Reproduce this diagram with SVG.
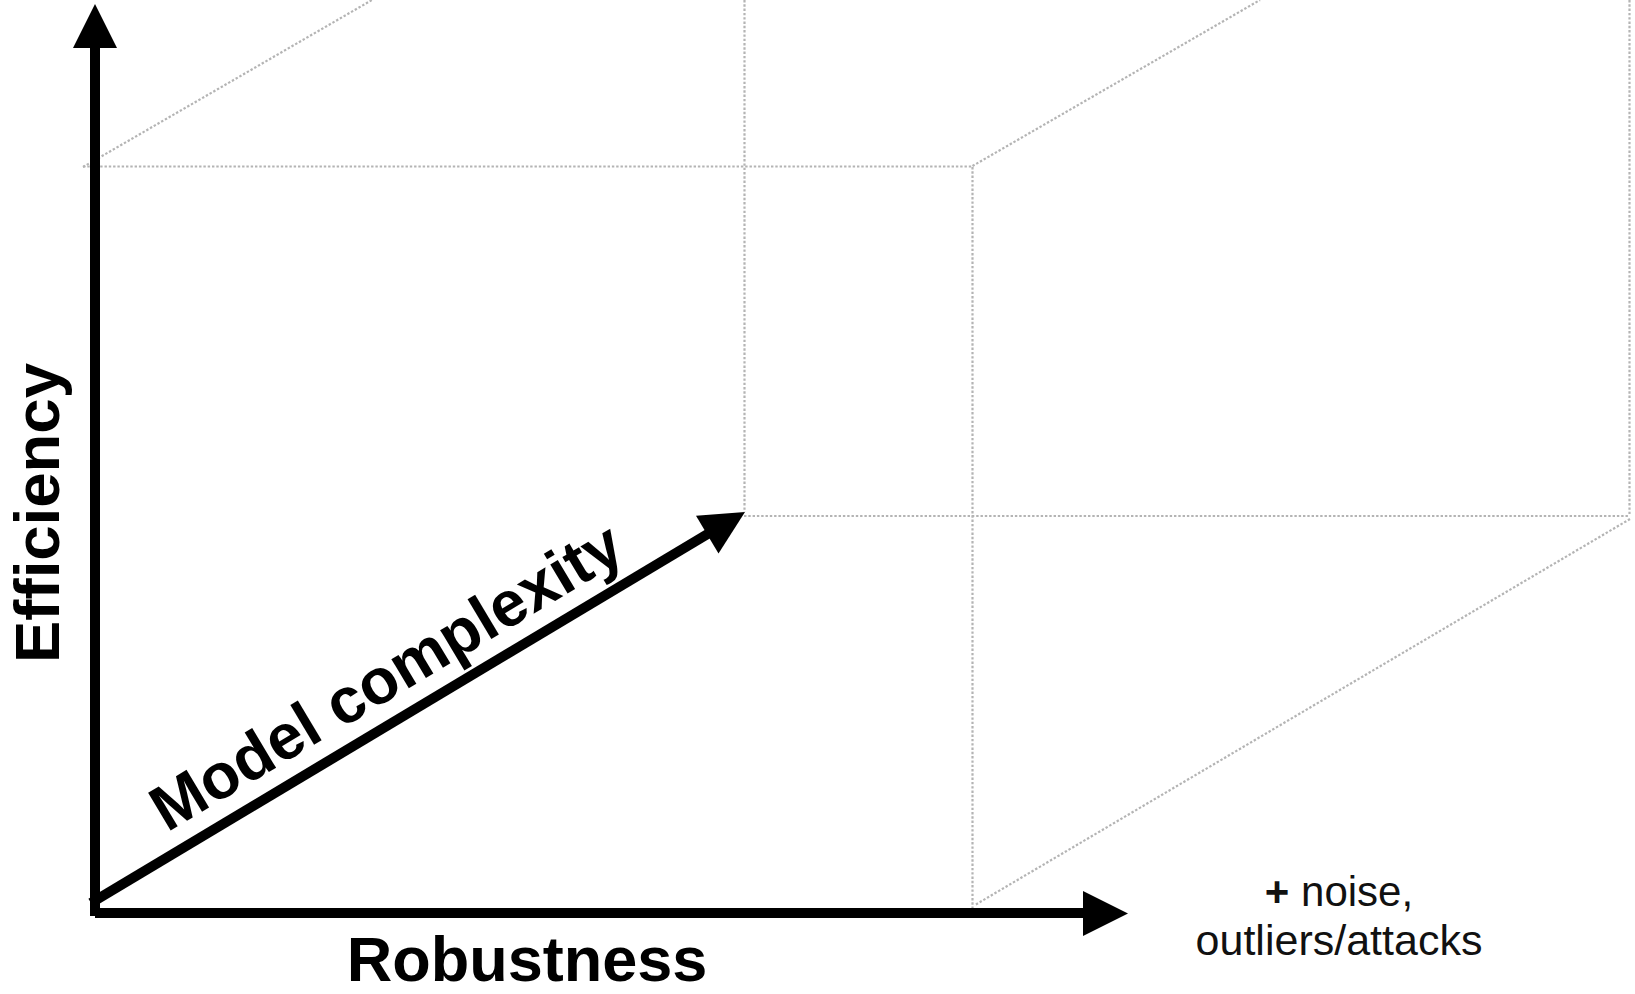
<svg xmlns="http://www.w3.org/2000/svg" width="1635" height="994" viewBox="0 0 1635 994">
<style>
.dot{stroke:#b4b4b4;stroke-width:2.2;stroke-dasharray:2.4 1.9;fill:none}
.axis{stroke:#000;stroke-width:10;fill:none}
.head{fill:#000}
.lbl{font-family:"Liberation Sans",Arial,sans-serif;font-weight:bold;fill:#000}
.note{font-family:"Liberation Sans",Arial,sans-serif;fill:#111}
</style>
<rect width="1635" height="994" fill="#fff"/>
<g id="grid">
<line class="dot" x1="83" y1="167" x2="372" y2="0"/>
<line class="dot" x1="83" y1="166.5" x2="972" y2="166.5"/>
<line class="dot" x1="972.5" y1="166" x2="1260" y2="0"/>
<line class="dot" x1="744.5" y1="0" x2="744.5" y2="512"/>
<line class="dot" x1="744" y1="516" x2="1629" y2="516"/>
<line class="dot" x1="972.5" y1="167" x2="972.5" y2="912"/>
<line class="dot" x1="1629.5" y1="0" x2="1629.5" y2="516"/>
<line class="dot" x1="1630" y1="519" x2="975" y2="905"/>
</g>
<g id="connectors">
<line class="axis" x1="95" y1="916" x2="95" y2="46"/>
<polygon class="head" points="95,4 73,48 117,48"/>
<line class="axis" x1="95" y1="913" x2="1086" y2="913"/>
<polygon class="head" points="1128,913.5 1083,891 1083,936"/>
<line class="axis" x1="91" y1="903" x2="711" y2="532"/>
<polygon class="head" points="745,512 696,515.7 718.5,553.5"/>
</g>
<g id="efficiency">
<text class="lbl" font-size="63.5" transform="translate(59,663) rotate(-90)">Efficiency</text>
</g>
<g id="robustness">
<text class="lbl" font-size="63" x="527" y="981" text-anchor="middle">Robustness</text>
</g>
<g id="model-complexity">
<text class="lbl" font-size="64" transform="translate(166.9,832.8) rotate(-30.85)">Model complexity</text>
</g>
<g id="noise">
<text class="note" font-size="42" x="1339" y="906" text-anchor="middle"><tspan font-weight="bold">+</tspan> noise,</text>
<text class="note" font-size="43" x="1339" y="955" text-anchor="middle">outliers/attacks</text>
</g>
</svg>
